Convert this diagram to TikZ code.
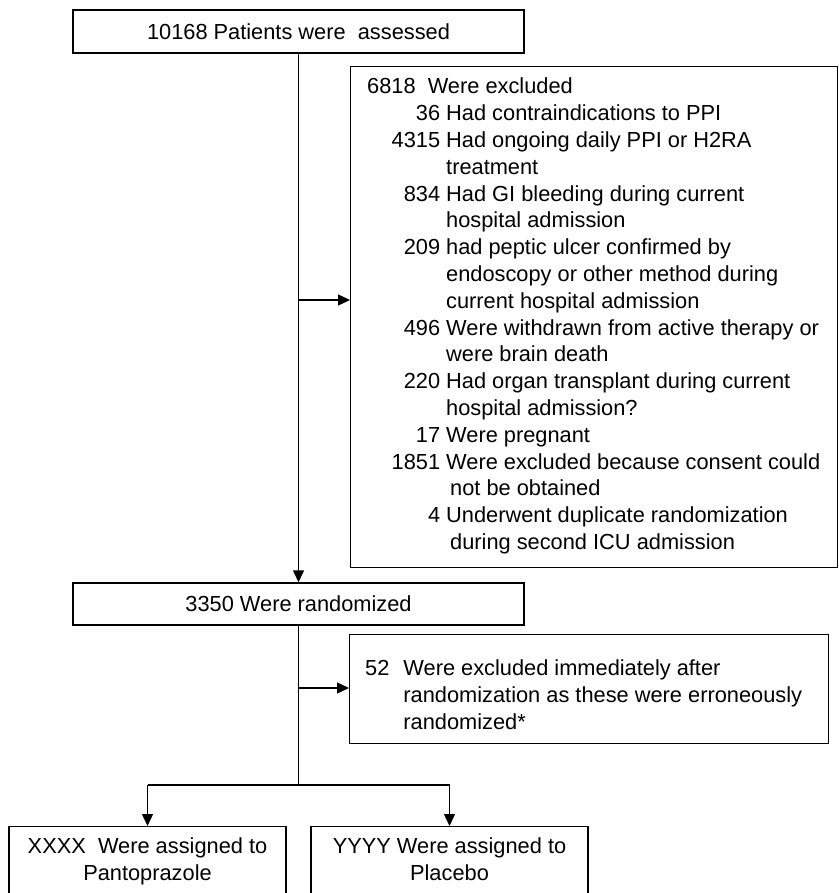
\documentclass[tikz,border=0pt]{standalone}
\usepackage{fontspec}
\setmainfont{Liberation Sans}
\usepackage{array}
\usetikzlibrary{arrows.meta}
\usetikzlibrary{calc}

\tikzset{
  flowbox/.style={draw, line width=1.4pt, inner sep=0pt},
  flowline/.style={line width=1.4pt},
  flowarrow/.style={flowline, -{Triangle[length=12pt,width=11pt]}},
}

\begin{document}
\begin{tikzpicture}[x=1pt, y=-1pt, font=\fontsize{21.8}{26.8}\selectfont]
  \useasboundingbox (0,0) rectangle (838,893);
  \clip (0,0) rectangle (838,893);

  % boxes
  \node[flowbox, minimum width=451pt, minimum height=43pt] (assess) at (298.5,31.5) {10168 Patients were\ \ assessed};
  \node[flowbox, minimum width=487pt, minimum height=501pt, anchor=north west] (excl) at (350,66) {};
  \node[anchor=north west, inner sep=0pt] (excltxt) at (367,75) {%
    \begin{tabular}{@{}>{\raggedleft\arraybackslash}p{73pt}@{\hspace{6pt}}l@{}}
      \multicolumn{2}{@{}l@{}}{6818\ \ Were excluded}\\
      36 & Had contraindications to PPI\\
      4315 & Had ongoing daily PPI or H2RA\\
       & treatment\\
      834 & Had GI bleeding during current\\
       & hospital admission\\
      209 & had peptic ulcer confirmed by\\
       & endoscopy or other method during\\
       & current hospital admission\\
      496 & Were withdrawn from active therapy or\\
       & were brain death\\
      220 & Had organ transplant during current\\
       & hospital admission?\\
      17 & Were pregnant\\
      1851 & Were excluded because consent could\\
       & \hspace{4pt}not be obtained\\
      4 & Underwent duplicate randomization\\
       & \hspace{4pt}during second ICU admission
    \end{tabular}};
  \node[flowbox, minimum width=451pt, minimum height=42pt] (rand) at (298.5,604) {3350 Were randomized};
  \node[flowbox, minimum width=479pt, minimum height=109pt, anchor=north west] (randex) at (349,634) {};
  \node[anchor=north west, inner sep=0pt] (randextxt) at (365,657) {%
    \begin{tabular}{@{}l@{\hspace{14pt}}l@{}}
      52 & Were excluded immediately after\\
       & randomization as these were erroneously\\
       & randomized*
    \end{tabular}};
  \node[flowbox, minimum width=277pt, minimum height=70pt, anchor=north] (panto) at (147.5,826) {%
    \begin{tabular}{@{}c@{}}XXXX\ \ Were assigned to\\Pantoprazole\end{tabular}};
  \node[flowbox, minimum width=277pt, minimum height=70pt, anchor=north] (plac) at (449.5,826) {%
    \begin{tabular}{@{}c@{}}YYYY Were assigned to\\Placebo\end{tabular}};

  % connectors
  \coordinate (split1) at (298.5,300);
  \coordinate (split2) at (298.5,688);
  \coordinate (fork) at (298.5,785);
  \draw[flowarrow] (assess.south) -- (rand.north);
  \draw[flowarrow] (split1) -- (split1 -| excl.west);
  \draw[flowline] (rand.south) -- (fork);
  \draw[flowarrow] (split2) -- (split2 -| randex.west);
  \draw[flowline] (fork -| panto.north) -- (fork -| plac.north);
  \draw[flowarrow] (fork -| panto.north) -- (panto.north);
  \draw[flowarrow] (fork -| plac.north) -- (plac.north);
\end{tikzpicture}
\end{document}
